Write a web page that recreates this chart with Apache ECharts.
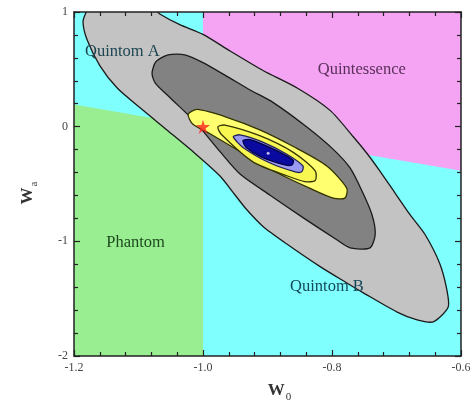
<!DOCTYPE html>
<html>
<head>
<meta charset="utf-8">
<script src="https://cdn.jsdelivr.net/npm/echarts@6/dist/echarts.min.js"></script>
<style>
  html, body { margin: 0; padding: 0; background: #fff; }
  #main { width: 474px; height: 408px; }
</style>
</head>
<body>
<div id="main"></div>
<script>
// axis ranges / ticks
var xTicks = [-1.2, -1.0, -0.8, -0.6];
var yTicks = [-2, -1, 0, 1];

// background regions (w0, wa)
var phantomRegion = [[-1.2, -2], [-1.0, -2], [-1.0, 0.0], [-1.2, 0.193]];
var quintessenceRegion = [[-1.0, 1], [-0.6, 1], [-0.6, -0.385], [-1.0, 0.0]];

// confidence contours, outermost first
var contourOuter = [[-1.186,0.915],[-1.181,1.0],[-1.175,1.05],[-1.082,1.05],[-1.067,0.983],[-1.036,0.890],
  [-1.000,0.805],[-0.958,0.660],[-0.907,0.490],[-0.854,0.337],[-0.803,0.142],[-0.767,-0.088],[-0.746,-0.232],
  [-0.726,-0.385],[-0.702,-0.581],[-0.679,-0.768],[-0.656,-0.938],[-0.633,-1.193],[-0.622,-1.422],[-0.620,-1.575],
  [-0.643,-1.702],[-0.668,-1.685],[-0.699,-1.617],[-0.752,-1.447],[-0.777,-1.363],[-0.819,-1.218],[-0.870,-1.023],
  [-0.907,-0.870],[-0.932,-0.725],[-0.950,-0.598],[-0.974,-0.428],[-1.016,-0.215],[-1.056,-0.028],[-1.098,0.167],
  [-1.133,0.337],[-1.160,0.533],[-1.180,0.762]];
var contourDark = [[-1.079,0.465],[-1.073,0.567],[-1.054,0.626],[-1.028,0.626],[-1.000,0.558],[-0.963,0.439],
  [-0.927,0.320],[-0.891,0.210],[-0.839,-0.003],[-0.798,-0.198],[-0.772,-0.360],[-0.754,-0.555],[-0.738,-0.768],
  [-0.733,-0.938],[-0.741,-1.057],[-0.772,-1.057],[-0.792,-0.989],[-0.845,-0.793],[-0.896,-0.598],[-0.943,-0.411],
  [-0.974,-0.215],[-1.012,0.040],[-1.051,0.252],[-1.074,0.380]];
var contourYellow = [[-1.023,0.108],[-1.009,0.150],[-0.963,0.082],[-0.912,-0.028],[-0.860,-0.173],[-0.808,-0.343],
  [-0.777,-0.538],[-0.780,-0.623],[-0.798,-0.623],[-0.834,-0.538],[-0.885,-0.402],[-0.938,-0.232],[-0.989,-0.062],
  [-1.016,0.023]];
var contourYellow2 = [[-0.977,-0.003],[-0.966,0.014],[-0.912,-0.079],[-0.860,-0.224],[-0.826,-0.385],[-0.826,-0.470],
  [-0.842,-0.479],[-0.870,-0.428],[-0.922,-0.309],[-0.971,-0.071]];
var contourLavender = [[-0.953,-0.088],[-0.943,-0.071],[-0.909,-0.130],[-0.870,-0.241],[-0.845,-0.343],[-0.847,-0.394],
  [-0.857,-0.394],[-0.896,-0.317],[-0.938,-0.181]];
var contourBlue = [[-0.938,-0.122],[-0.927,-0.113],[-0.893,-0.190],[-0.860,-0.292],[-0.862,-0.334],[-0.873,-0.334],
  [-0.909,-0.266],[-0.933,-0.181]];

var lcdm = [[-1.0, 0.0]];
var bestFit = [[-0.899, -0.232]];

var regionLabels = [
  { name: 'Quintom A', value: [-1.183, 0.65], color: '#1d4550' },
  { name: 'Quintessence', value: [-0.822, 0.499], color: '#5a2f5a' },
  { name: 'Phantom', value: [-1.150, -1.014], color: '#1f4a1f' },
  { name: 'Quintom B', value: [-0.865, -1.397], color: '#14495a' }
];

function polygonSeries(points, fill, stroke) {
  return {
    type: 'custom',
    data: points,
    clip: true,
    silent: true,
    renderItem: function (params, api) {
      if (params.dataIndex !== 0) return;
      var pts = points.map(function (p) { return api.coord(p); });
      return {
        type: 'polygon',
        shape: { points: pts, smooth: 0.25 },
        style: { fill: fill, stroke: stroke, lineWidth: stroke ? 1.3 : 0 }
      };
    }
  };
}

var serif = '"Liberation Serif", "DejaVu Serif", serif';
var starPath = 'path://M50,0 L61,35 L98,35 L68,57 L79,91 L50,70 L21,91 L32,57 L2,35 L39,35 Z';

var axisCommon = {
  z: 10,
  axisLine: { onZero: false, lineStyle: { color: '#222', width: 1.5 } },
  axisTick: { inside: true, length: 6, lineStyle: { color: '#222', width: 1.2 } },
  minorTick: { show: true, splitNumber: 5, length: 4, lineStyle: { color: '#222', width: 1.2 } },
  splitLine: { show: false }
};

var nameRich = {
  w: { fontFamily: serif, fontSize: 17, fontWeight: 'bold', color: '#333' },
  s: { fontFamily: serif, fontSize: 11, color: '#333', padding: [14, 0, 0, 1] }
};

var option = {
  animation: false,
  backgroundColor: '#fff',
  grid: { left: 74, right: 13, top: 12, bottom: 43, backgroundColor: '#80ffff', show: true, borderWidth: 0 },
  xAxis: [
    Object.assign({
      type: 'value', min: xTicks[0], max: xTicks[xTicks.length - 1], interval: 0.2,
      name: '{w|W}{s|0}', nameLocation: 'middle', nameGap: 22,
      nameTextStyle: { rich: nameRich, padding: [0, 0, 0, 24] },
      axisLabel: { fontFamily: serif, fontSize: 12, color: '#444', margin: 6,
        formatter: function (v) { return v.toFixed(1); } }
    }, axisCommon),
    Object.assign({
      type: 'value', position: 'top', min: xTicks[0], max: xTicks[xTicks.length - 1], interval: 0.2,
      axisLabel: { show: false }
    }, axisCommon)
  ],
  yAxis: [
    Object.assign({
      type: 'value', min: yTicks[0], max: yTicks[yTicks.length - 1], interval: 1,
      name: '{w|W}{s|a}', nameLocation: 'middle', nameGap: 34, nameRotate: 90,
      nameTextStyle: { rich: nameRich, padding: [0, 18, 0, 0] },
      axisLabel: { fontFamily: serif, fontSize: 12, color: '#444', margin: 6 }
    }, axisCommon),
    Object.assign({
      type: 'value', position: 'right', min: yTicks[0], max: yTicks[yTicks.length - 1], interval: 1,
      axisLabel: { show: false }
    }, axisCommon)
  ],
  series: [
    {
      type: 'custom', data: phantomRegion, clip: true, silent: true,
      renderItem: function (params, api) {
        if (params.dataIndex !== 0) return;
        return { type: 'polygon', shape: { points: phantomRegion.map(function (p) { return api.coord(p); }) },
          style: { fill: '#98ee90' } };
      }
    },
    {
      type: 'custom', data: quintessenceRegion, clip: true, silent: true,
      renderItem: function (params, api) {
        if (params.dataIndex !== 0) return;
        return { type: 'polygon', shape: { points: quintessenceRegion.map(function (p) { return api.coord(p); }) },
          style: { fill: '#f4a4f2' } };
      }
    },
    polygonSeries(contourOuter, '#c3c3c3', '#1a1a1a'),
    polygonSeries(contourDark, '#828282', '#1a1a1a'),
    polygonSeries(contourYellow, '#ffff70', '#333300'),
    polygonSeries(contourYellow2, '#f8f650', '#333300'),
    polygonSeries(contourLavender, '#9a9af4', '#222255'),
    polygonSeries(contourBlue, '#0a0aa0', '#000044'),
    {
      type: 'scatter', data: bestFit, symbol: 'circle', symbolSize: 3,
      itemStyle: { color: '#e8e8ff' }, silent: true
    },
    {
      type: 'scatter', data: lcdm, symbol: starPath, symbolSize: 14,
      itemStyle: { color: '#ff2020' }, silent: true, z: 5
    },
    {
      type: 'custom', data: regionLabels, silent: true, z: 6,
      renderItem: function (params, api) {
        var item = regionLabels[params.dataIndex];
        var pt = api.coord(item.value);
        return {
          type: 'text', x: pt[0], y: pt[1],
          style: { text: item.name, fill: item.color, font: '16.5px ' + serif,
            textAlign: 'left', textVerticalAlign: 'middle' }
        };
      }
    }
  ]
};

var chart = echarts.init(document.getElementById('main'));
chart.setOption(option);
</script>
</body>
</html>
